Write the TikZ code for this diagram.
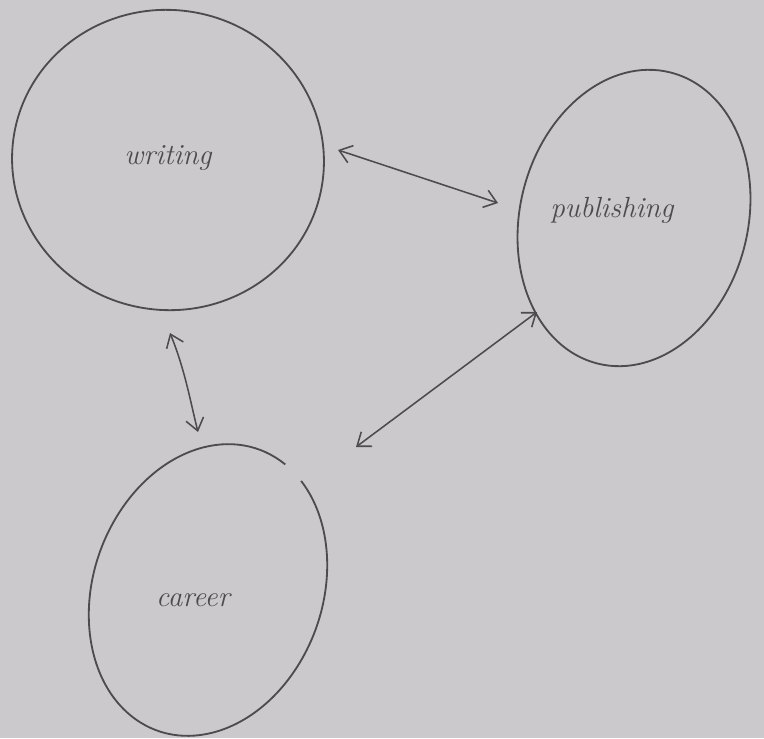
\documentclass[tikz,border=0pt]{standalone}
\usetikzlibrary{shapes.geometric,arrows.meta}
\definecolor{paper}{RGB}{204,201,204}
\definecolor{pencil}{RGB}{78,75,78}
\begin{document}
\begin{tikzpicture}[x=0.025cm,y=-0.025cm,
  bubble/.style={ellipse,draw=pencil,line width=1.3pt,inner sep=0pt},
  word/.style={text=pencil,font=\huge\itshape},
  link/.style={draw=pencil,line width=1.1pt,{Straight Barb[length=3mm,width=4.5mm]}-{Straight Barb[length=3mm,width=4.5mm]}}]
\fill[paper] (0,0) rectangle (764,738);
\useasboundingbox (0,0) rectangle (764,738);
\node[bubble,minimum width=7.8cm,minimum height=7.5cm,rotate=-8] (w) at (168,160) {};
\node[bubble,minimum width=5.7cm,minimum height=7.5cm,rotate=-14] (p) at (634,218) {};
\node[bubble,draw=none,minimum width=5.75cm,minimum height=7.5cm,rotate=-20] (c) at (208,590) {};
\begin{scope}[shift={(c.center)},x=1pt,y=1pt,rotate=-20]
  \draw[pencil,line width=1.3pt] (75:81.5 and 106.3) arc[start angle=75,end angle=424,x radius=81.5,y radius=106.3];
\end{scope}
\node[word] (wt) at (168,158) {writing};
\node[word] (pt) at (612,210) {publishing};
\node[word] (ct) at (193,600) {career};
\coordinate (a1) at (338,150);
\coordinate (a2) at (498,203);
\coordinate (b1) at (170,333);
\coordinate (b2) at (198,432);
\coordinate (c1) at (537,312);
\coordinate (c2) at (356,447);
\draw[link] (a1) -- (a2);
\draw[link] (b1) .. controls (185,370) and (190,400) .. (b2);
\draw[link] (c1) -- (c2);
\end{tikzpicture}
\end{document}
